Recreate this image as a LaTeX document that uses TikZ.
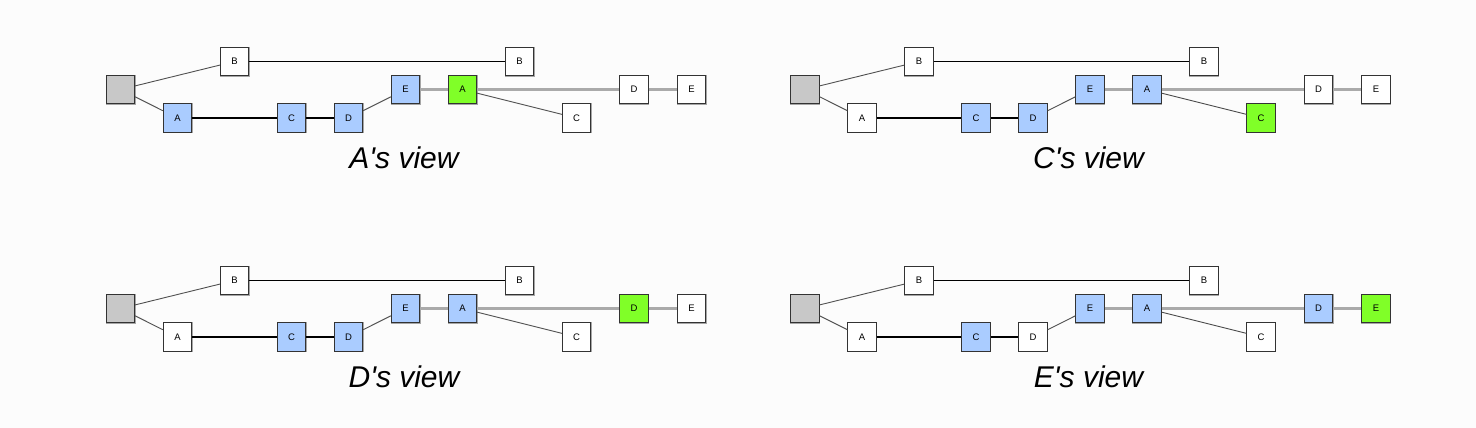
\documentclass[tikz,border=0pt]{standalone}
\usepackage{fontspec}
\setmainfont{Liberation Sans}
\newfontfamily\labfont{Liberation Sans}[Ligatures=ResetAll]
\usetikzlibrary{backgrounds}
\definecolor{bg}{RGB}{252,252,252}
\definecolor{rootgray}{RGB}{200,200,200}
\definecolor{nblue}{RGB}{170,204,255}
\definecolor{ngreen}{RGB}{128,255,40}
\definecolor{lgray}{RGB}{170,170,170}
\definecolor{dgray}{RGB}{80,80,80}
\tikzset{
  box/.style={draw=black!80, line width=0.8pt, fill=white, minimum size=28.5pt, inner sep=0pt,
    font=\fontsize{9.5}{9.5}\selectfont,
    append after command={\pgfextra{\draw[gray!70, line width=1.1pt]
      (\tikzlastnode.north east) -- (\tikzlastnode.south east) -- (\tikzlastnode.south west);}}},
  rootbox/.style={box, fill=rootgray},
  wbox/.style={fill=white},
  bbox/.style={fill=nblue},
  gbox/.style={fill=ngreen},
  thinedge/.style={draw=dgray, line width=0.9pt},
  blackedge/.style={draw=black, line width=1.05pt},
  grayedge/.style={draw=lgray, line width=3pt},
  viewlabel/.style={font=\labfont\fontsize{30}{30}\selectfont\itshape, inner sep=0pt},
}
\newcommand\mypanel[2]{%
  \node[rootbox] (#1r) at (120.5,89.5) {};
  \node[box] (#1b1) at (234.5,61.5) {B};
  \node[box,fA1] (#1a1) at (177.5,118) {A};
  \node[box,fC1] (#1c1) at (291.5,118) {C};
  \node[box,fD1] (#1d1) at (348.5,118) {D};
  \node[box,fE1] (#1e1) at (405.5,89.5) {E};
  \node[box,fA2] (#1a2) at (462.5,89.5) {A};
  \node[box] (#1b2) at (519.5,61.5) {B};
  \node[box,fC2] (#1c2) at (576.5,118) {C};
  \node[box,fD2] (#1d2) at (634,89.5) {D};
  \node[box,fE2] (#1e2) at (691.5,89.5) {E};
  \draw[thinedge] (#1r) -- (#1b1);
  \draw[thinedge] (#1r) -- (#1a1);
  \draw[blackedge] (#1b1) -- (#1b2);
  \draw[blackedge] (#1a1) -- (#1c1);
  \draw[blackedge] (#1c1) -- (#1d1);
  \draw[thinedge] (#1d1) -- (#1e1);
  \draw[grayedge] (#1e1) -- (#1a2);
  \draw[grayedge] (#1a2) -- (#1d2);
  \draw[grayedge] (#1d2) -- (#1e2);
  \draw[thinedge] (#1a2) -- (#1c2);
  \node[viewlabel] (#1lab) at (404,158) {#2\char"0027 s view};
}
\begin{document}
\begin{tikzpicture}[x=1pt,y=-1pt]
  \useasboundingbox[fill=bg] (0,0) rectangle (1476,428);
  \begin{scope}[fA1/.style=bbox, fC1/.style=bbox, fD1/.style=bbox, fE1/.style=bbox,
                fA2/.style=gbox, fC2/.style=wbox, fD2/.style=wbox, fE2/.style=wbox]
    \mypanel{p}{A}
  \end{scope}
  \begin{scope}[shift={(684.5,0)}, fA1/.style=wbox, fC1/.style=bbox, fD1/.style=bbox, fE1/.style=bbox,
                fA2/.style=bbox, fC2/.style=gbox, fD2/.style=wbox, fE2/.style=wbox]
    \mypanel{q}{C}
  \end{scope}
  \begin{scope}[shift={(0,219)}, fA1/.style=wbox, fC1/.style=bbox, fD1/.style=bbox, fE1/.style=bbox,
                fA2/.style=bbox, fC2/.style=wbox, fD2/.style=gbox, fE2/.style=wbox]
    \mypanel{r}{D}
  \end{scope}
  \begin{scope}[shift={(684.5,219)}, fA1/.style=wbox, fC1/.style=bbox, fD1/.style=wbox, fE1/.style=bbox,
                fA2/.style=bbox, fC2/.style=wbox, fD2/.style=bbox, fE2/.style=gbox]
    \mypanel{s}{E}
  \end{scope}
\end{tikzpicture}
\end{document}
